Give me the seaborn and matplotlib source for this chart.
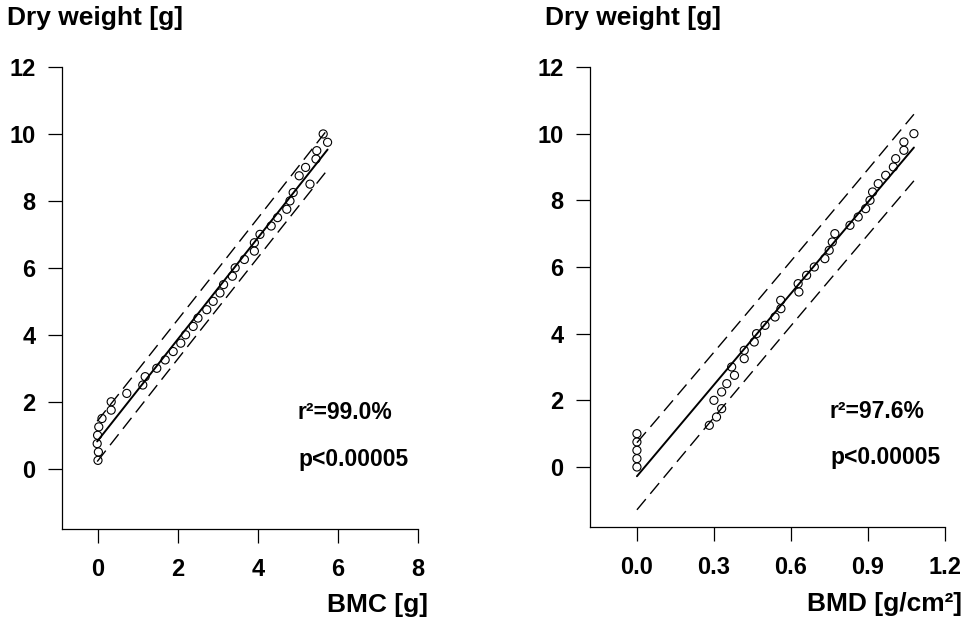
import numpy as np
import seaborn as sns
import matplotlib
matplotlib.use("Agg")
import matplotlib.pyplot as plt

# values
bmc = [0.00, 0.01, -0.02, -0.01, 0.02, 0.10, 0.33, 0.33, 0.72, 1.12,
       1.18, 1.47, 1.68, 1.88, 2.07, 2.19, 2.38, 2.50, 2.72, 2.88,
       3.05, 3.14, 3.36, 3.43, 3.66, 3.91, 3.91, 4.05, 4.33, 4.49,
       4.72, 4.80, 4.88, 5.30, 5.03, 5.19, 5.45, 5.47, 5.74, 5.63]
dry_bmc = [0.25, 0.50, 0.75, 1.00, 1.25, 1.50, 1.75, 2.00, 2.25, 2.50,
           2.75, 3.00, 3.25, 3.50, 3.75, 4.00, 4.25, 4.50, 4.75, 5.00,
           5.25, 5.50, 5.75, 6.00, 6.25, 6.50, 6.75, 7.00, 7.25, 7.50,
           7.75, 8.00, 8.25, 8.50, 8.75, 9.00, 9.25, 9.50, 9.75, 10.00]

bmd = [0.0, 0.0, 0.0, 0.0, 0.0, 0.282, 0.310, 0.330, 0.300, 0.330,
       0.350, 0.380, 0.369, 0.418, 0.418, 0.457, 0.466, 0.499, 0.538, 0.561,
       0.560, 0.631, 0.628, 0.661, 0.691, 0.732, 0.749, 0.761, 0.771, 0.830,
       0.862, 0.891, 0.908, 0.918, 0.940, 0.969, 0.999, 1.008, 1.040, 1.040,
       1.079]
dry_bmd = [0.00, 0.25, 0.50, 0.75, 1.00, 1.25, 1.50, 1.75, 2.00, 2.25,
           2.50, 2.75, 3.00, 3.25, 3.50, 3.75, 4.00, 4.25, 4.50, 4.75,
           5.00, 5.25, 5.50, 5.75, 6.00, 6.25, 6.50, 6.75, 7.00, 7.25,
           7.50, 7.75, 8.00, 8.25, 8.50, 8.75, 9.00, 9.25, 9.50, 9.75,
           10.00]

bmc_ticks = [0, 2, 4, 6, 8]
bmd_ticks = [0.0, 0.3, 0.6, 0.9, 1.2]
bmd_ticklabels = ["0.0", "0.3", "0.6", "0.9", "1.2"]
y_ticks = [0, 2, 4, 6, 8, 10, 12]
r2_labels = ["r\u00b2=99.0%", "r\u00b2=97.6%"]
p_label = "p<0.00005"

sns.set_style("ticks")
plt.rcParams['font.family'] = ['Liberation Sans', 'DejaVu Sans']
plt.rcParams['font.weight'] = 'bold'
plt.rcParams['text.color'] = 'black'
plt.rcParams['axes.labelcolor'] = 'black'
plt.rcParams['xtick.color'] = 'black'
plt.rcParams['ytick.color'] = 'black'


def pred_band(x, y, t=2.024):
    # 95% prediction interval of the simple linear fit
    x = np.asarray(x, float)
    y = np.asarray(y, float)
    n = len(x)
    b, a = np.polyfit(x, y, 1)
    resid = y - (a + b * x)
    s = np.sqrt(np.sum(resid ** 2) / (n - 2))
    grid = np.linspace(x.min(), x.max(), 100)
    se = s * np.sqrt(1 + 1 / n + (grid - x.mean()) ** 2 / np.sum((x - x.mean()) ** 2))
    fit = a + b * grid
    return grid, fit - t * se, fit + t * se


fig = plt.figure(figsize=(9.7, 6.23), dpi=100)
ax1 = fig.add_axes([0.0639, 0.1509, 0.3670, 0.7416])
ax2 = fig.add_axes([0.6082, 0.1541, 0.3660, 0.7384])

panels = [
    (ax1, bmc, dry_bmc, (-0.9, 8), bmc_ticks, [str(t) for t in bmc_ticks],
     "BMC [g]", (1.028, -0.165), r2_labels[0], 5.0),
    (ax2, bmd, dry_bmd, (-0.183, 1.2), bmd_ticks, bmd_ticklabels,
     "BMD [g/cm\u00b2]", (1.048, -0.167), r2_labels[1], 0.752),
]

for ax, x, y, xlim, xt, xtl, xlab, labpos, r2txt, tx in panels:
    sns.regplot(x=x, y=y, ax=ax, ci=None, color="black", marker="o",
                scatter_kws=dict(s=34, facecolors="none", edgecolors="black",
                                 linewidths=0.8, alpha=1, zorder=3),
                line_kws=dict(color="black", lw=1.4))
    grid, lo, hi = pred_band(x, y)
    ax.plot(grid, lo, color="black", lw=1.0, ls=(0, (10, 5)))
    ax.plot(grid, hi, color="black", lw=1.0, ls=(0, (10, 5)))

    ax.set_xlim(*xlim)
    ax.set_ylim(-1.8, 12)
    ax.set_xticks(xt)
    ax.set_xticklabels(xtl)
    ax.set_yticks(y_ticks)
    sns.despine(ax=ax)
    for side in ["left", "bottom"]:
        ax.spines[side].set_linewidth(0.9)
        ax.spines[side].set_color("black")
    ax.tick_params(axis="both", direction="out", length=10, width=0.9,
                   color="black", labelcolor="black", labelsize=17, pad=9)
    ax.tick_params(axis="x", pad=11)
    for lab in ax.get_xticklabels() + ax.get_yticklabels():
        lab.set_fontweight("bold")

    ax.set_xlabel(xlab, fontsize=19, fontweight="bold", ha="right", va="center")
    ax.xaxis.set_label_coords(*labpos)

    ax.text(tx, 1.67, r2txt, fontsize=16.5, fontweight="bold", va="center", ha="left")
    ax.text(tx, 0.27, p_label, fontsize=16.5, fontweight="bold", va="center", ha="left")

fig.text(0.007, 1 - 18 / 623, "Dry weight [g]", fontsize=19, fontweight="bold",
         ha="left", va="center")
fig.text(0.5619, 1 - 18 / 623, "Dry weight [g]", fontsize=19, fontweight="bold",
         ha="left", va="center")

fig.savefig("out.png", dpi=100)
plt.close(fig)
